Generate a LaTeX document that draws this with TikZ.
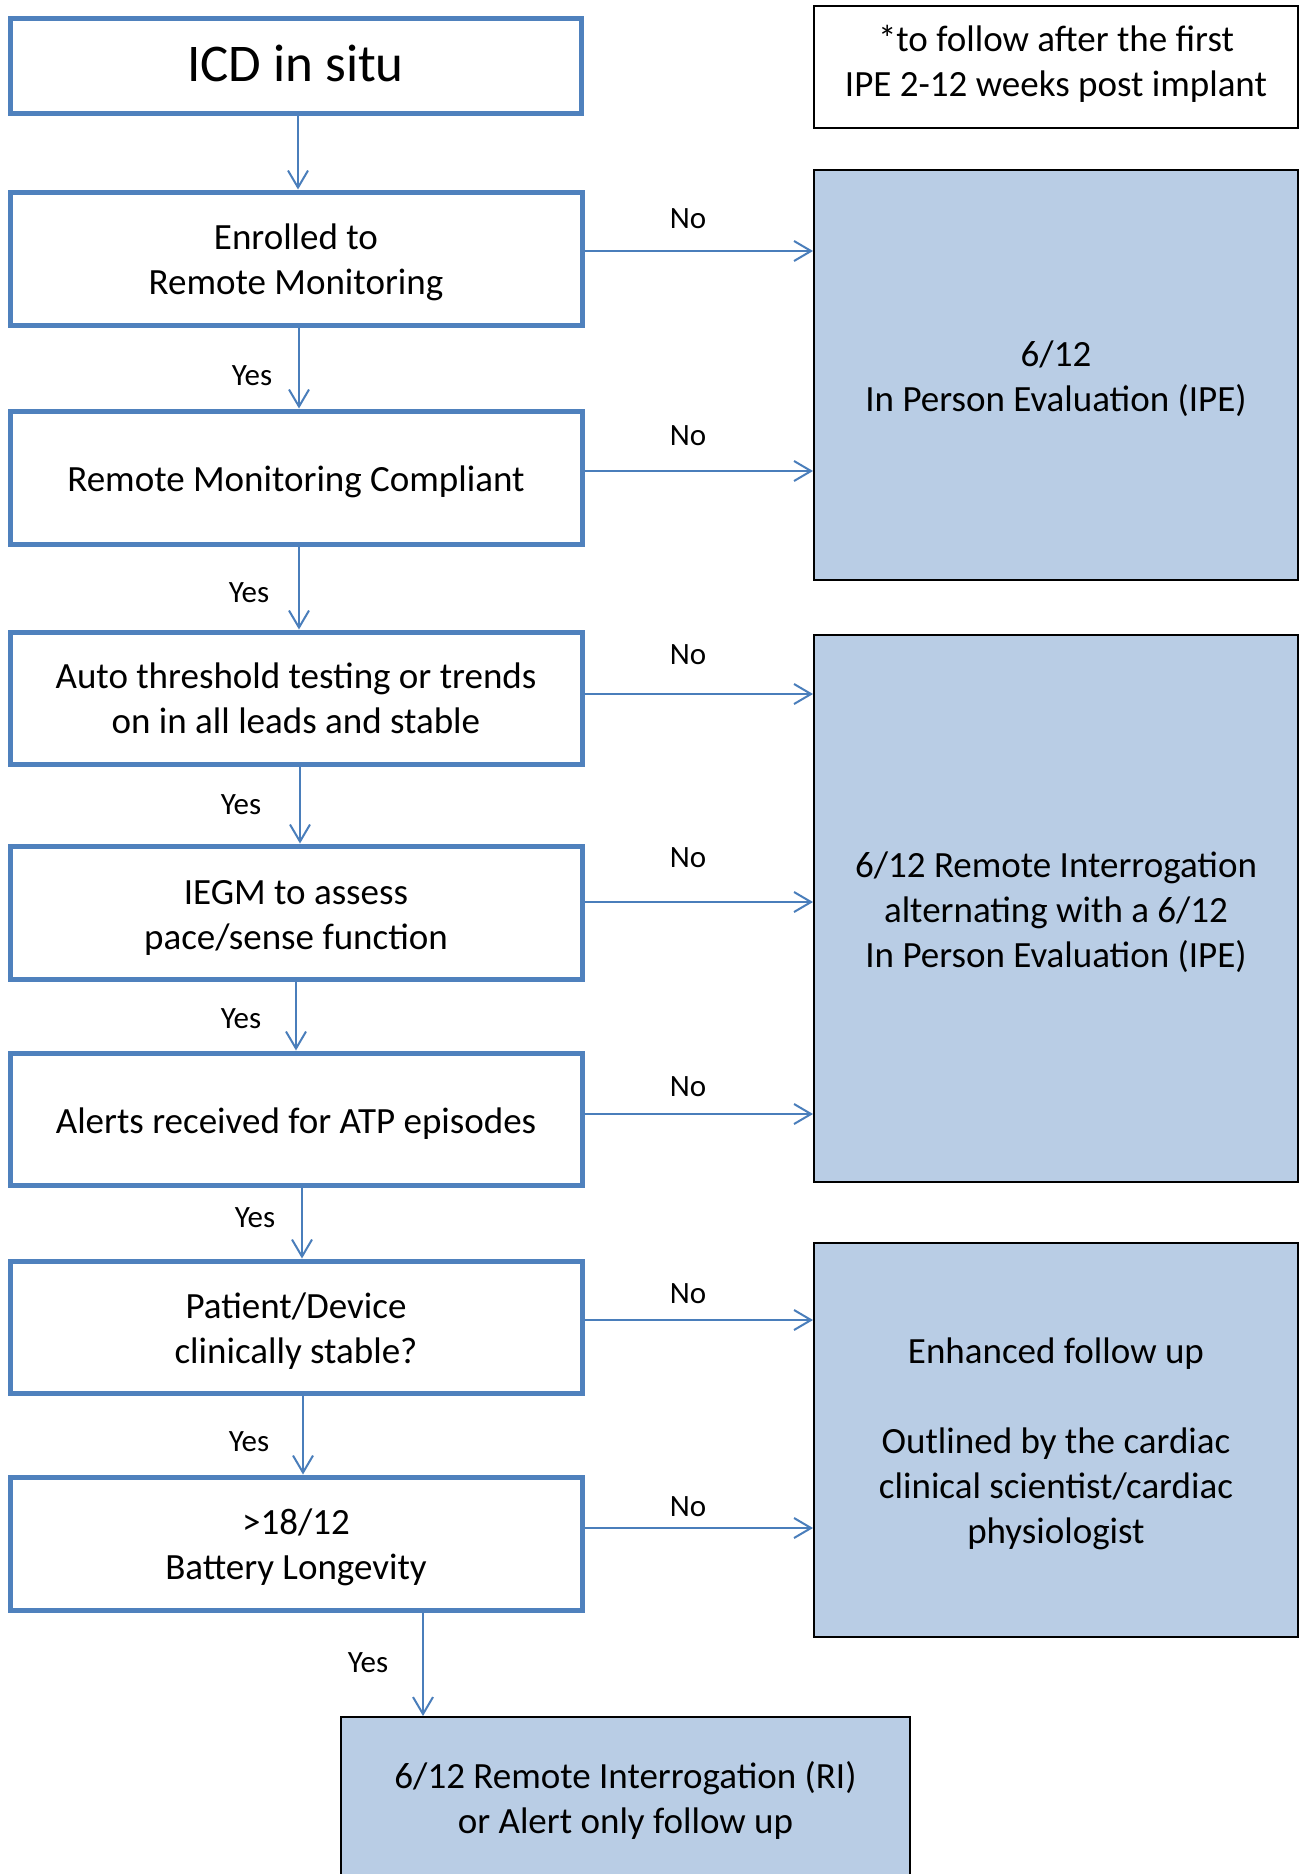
\documentclass[tikz,border=0pt]{standalone}
\usepackage{fontspec}
\setmainfont{Carlito}
\usetikzlibrary{arrows.meta,calc}
\definecolor{boxblue}{HTML}{4F81BD}
\definecolor{fillblue}{HTML}{B9CDE5}
\definecolor{arrblue}{HTML}{4A7EBB}
\newcommand\myup{\rule{0pt}{34pt}}
\newcommand\mydn{\rule[-11.5pt]{0pt}{11.5pt}}
\begin{document}
\begin{tikzpicture}[x=1pt,y=-1pt,
  flow/.style={draw=boxblue,line width=5pt,fill=white,minimum width=572pt,minimum height=133pt,align=center,inner sep=0pt,font=\fontsize{37}{45}\selectfont},
  outbox/.style={draw=black,line width=2pt,fill=fillblue,minimum width=484pt,align=center,inner sep=0pt,font=\fontsize{37}{45}\selectfont},
  conn/.style={draw=arrblue,line width=2pt,-{Straight Barb[length=17pt,width=20pt]}},
  lab/.style={font=\fontsize{31}{37}\selectfont,inner sep=0pt}]
\useasboundingbox (0,0) rectangle (1299,1874);
\fill[white] (0,0) rectangle (1299,1874);

% left column
\node[flow,minimum width=571pt,minimum height=95pt,font=\fontsize{53}{64}\selectfont] (icd) at (295.5,65.5) {ICD in situ\rule[-5pt]{0pt}{5pt}};
\node[flow] (enr) at (296,258.5) {\myup Enrolled to\\Remote Monitoring};
\node[flow] (rmc) at (296,477.5) {\myup Remote Monitoring Compliant};
\node[flow,minimum height=132pt] (auto) at (296,698) {Auto threshold testing or trends\\on in all leads and stable};
\node[flow] (iegm) at (296,912.5) {\myup IEGM to assess\\pace/sense function};
\node[flow,minimum height=132pt] (alerts) at (296,1119) {\myup Alerts received for ATP episodes};
\node[flow,minimum height=132pt] (pat) at (296,1327) {\myup Patient/Device\\clinically stable?};
\node[flow] (batt) at (296,1543.5) {\myup >18/12\\Battery Longevity};

% right column
\node[outbox,fill=white,minimum height=122pt] (note) at (1056,67) {*to follow after the first\\IPE 2-12 weeks post implant\mydn};
\node[outbox,minimum height=410pt] (ipe) at (1056,375) {\myup 6/12\\In Person Evaluation (IPE)};
\node[outbox,minimum height=547pt] (rint) at (1056,908.5) {\myup 6/12 Remote Interrogation\\alternating with a 6/12\\In Person Evaluation (IPE)};
\node[outbox,minimum height=394pt] (enh) at (1056,1440) {\myup Enhanced follow up\\[45pt]Outlined by the cardiac\\clinical scientist/cardiac\\physiologist};
\node[outbox,minimum width=569pt,minimum height=166pt] (ri) at (625.5,1800) {6/12 Remote Interrogation (RI)\\or Alert only follow up};

% vertical connector x positions
\coordinate (v1) at (298,0);
\coordinate (v2) at (299,0);
\coordinate (v3) at (299,0);
\coordinate (v4) at (300,0);
\coordinate (v5) at (296,0);
\coordinate (v6) at (302,0);
\coordinate (v7) at (303,0);
\coordinate (v8) at (423,0);
\draw[conn] (icd.south -| v1) -- (enr.north -| v1);
\draw[conn] (enr.south -| v2) -- (rmc.north -| v2);
\draw[conn] (rmc.south -| v3) -- (auto.north -| v3);
\draw[conn] (auto.south -| v4) -- (iegm.north -| v4);
\draw[conn] (iegm.south -| v5) -- (alerts.north -| v5);
\draw[conn] (alerts.south -| v6) -- (pat.north -| v6);
\draw[conn] (pat.south -| v7) -- (batt.north -| v7);
\draw[conn] (batt.south -| v8) -- (ri.north -| v8);

% horizontal connector y positions
\coordinate (h1) at (0,251);
\coordinate (h2) at (0,471);
\coordinate (h3) at (0,694);
\coordinate (h4) at (0,902);
\coordinate (h5) at (0,1114);
\coordinate (h6) at (0,1320);
\coordinate (h7) at (0,1528);
\draw[conn] (enr.east |- h1) -- (ipe.west |- h1);
\draw[conn] (rmc.east |- h2) -- (ipe.west |- h2);
\draw[conn] (auto.east |- h3) -- (rint.west |- h3);
\draw[conn] (iegm.east |- h4) -- (rint.west |- h4);
\draw[conn] (alerts.east |- h5) -- (rint.west |- h5);
\draw[conn] (pat.east |- h6) -- (enh.west |- h6);
\draw[conn] (batt.east |- h7) -- (enh.west |- h7);

% labels
\node[lab] (no1) at (688,219) {No};
\node[lab] (no2) at (688,436) {No};
\node[lab] (no3) at (688,655) {No};
\node[lab] (no4) at (688,858) {No};
\node[lab] (no5) at (688,1087) {No};
\node[lab] (no6) at (688,1294) {No};
\node[lab] (no7) at (688,1507) {No};
\node[lab] (yes1) at (252,376) {Yes};
\node[lab] (yes2) at (249,593) {Yes};
\node[lab] (yes3) at (241,805) {Yes};
\node[lab] (yes4) at (241,1019) {Yes};
\node[lab] (yes5) at (255,1218) {Yes};
\node[lab] (yes6) at (249,1442) {Yes};
\node[lab] (yes7) at (368,1663) {Yes};
\end{tikzpicture}
\end{document}
